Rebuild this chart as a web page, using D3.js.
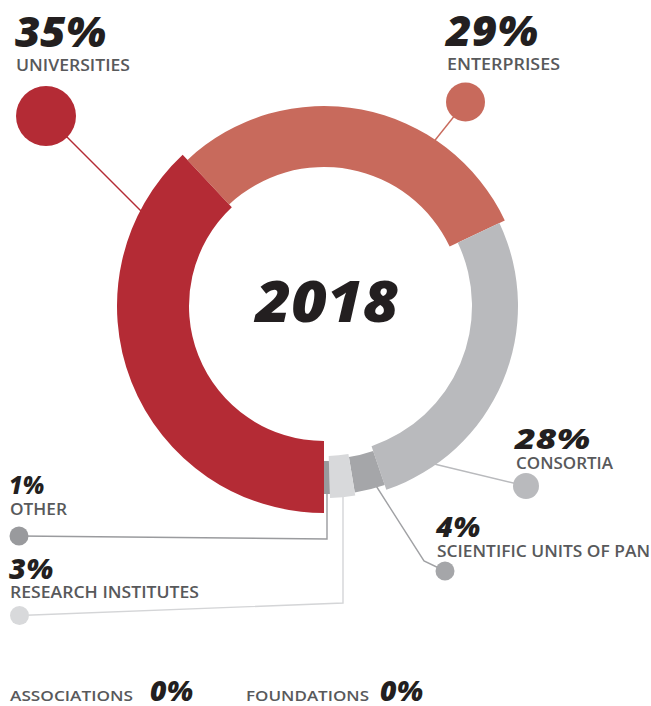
<!DOCTYPE html>
<html lang="en">
<head>
<meta charset="utf-8">
<title>2018</title>
<script src="https://d3js.org/d3.v7.min.js"></script>
<style>
  body { margin: 0; background: #fff; }
  .pct { font-family: 'Open Sans', sans-serif; font-weight: 800; font-style: italic; fill: #231f20; }
  .lbl { font-family: 'Open Sans', sans-serif; font-weight: 600; fill: #58595b; }
</style>
</head>
<body>
<div id="chart"></div>
<script>
// data
var categories = ["UNIVERSITIES", "ENTERPRISES", "CONSORTIA", "SCIENTIFIC UNITS OF PAN", "RESEARCH INSTITUTES", "OTHER"];
var percents = ["35%", "29%", "28%", "4%", "3%", "1%"];
// share of the ring each slice takes, as drawn
var shares = [38.0, 29.9, 26.8, 2.6, 2.1, 0.5];
var zeroCategories = ["ASSOCIATIONS", "FOUNDATIONS"];
var zeroPercents = ["0%", "0%"];
var year = "2018";

var width = 651, height = 706;
var cx = 324, cy = 306;

var colors = ["#b42b35", "#c86a5c", "#b9babd", "#a5a6a9", "#d8d9db", "#999a9d"];
var lineColors = ["#b42b35", "#c86a5c", "#b9babd", "#a0a1a4", "#d4d5d7", "#9a9b9e"];
// inner / outer radius of every slice
var radii = [[135, 207], [139, 200], [148, 194], [153, 189], [150, 192], [155, 188]];

var svg = d3.select("#chart").append("svg")
  .attr("width", width)
  .attr("height", height);

// callouts: dot + leader line (points in page coords)
var callouts = [
  { dot: [46, 116], r: 30, path: [[46, 116], [146, 216]] },
  { dot: [465.5, 102], r: 19.5, path: [[465.5, 102], [428, 149]] },
  { dot: [526, 486], r: 13, path: [[526, 486], [430, 463]] },
  { dot: [445, 571], r: 9.5, path: [[445, 571], [424, 561], [373, 481]] },
  { dot: [19.5, 615.5], r: 9.5, path: [[19.5, 615.5], [343, 603], [343, 480]] },
  { dot: [19, 536], r: 9.5, path: [[19, 536], [327, 539], [327, 480]] }
];

var line = d3.line();
var gLines = svg.append("g");
callouts.forEach(function(c, i) {
  gLines.append("path")
    .attr("d", line(c.path))
    .attr("fill", "none")
    .attr("stroke", lineColors[i])
    .attr("stroke-width", 1.4);
  gLines.append("circle")
    .attr("cx", c.dot[0]).attr("cy", c.dot[1]).attr("r", c.r)
    .attr("fill", colors[i]);
});

var pie = d3.pie().sort(null).startAngle(Math.PI).endAngle(3 * Math.PI);
var arcs = pie(shares);

var g = svg.append("g").attr("transform", "translate(" + cx + "," + cy + ")");
g.selectAll("path")
  .data(arcs)
  .enter()
  .append("path")
  .attr("fill", function(d, i) { return colors[i]; })
  .attr("d", function(d, i) {
    return d3.arc().innerRadius(radii[i][0]).outerRadius(radii[i][1])(d);
  });

function addText(cls, x, y, size, len, str, anchor) {
  svg.append("text").attr("class", cls)
    .attr("x", x).attr("y", y)
    .attr("text-anchor", anchor || "start")
    .attr("textLength", len)
    .attr("lengthAdjust", "spacingAndGlyphs")
    .style("font-size", size + "px")
    .text(str);
}

// center year
addText("pct", 327, 322, 57, 143, year, "middle");

// labels: [x, pct baseline, label baseline, pct size, pct width, label width]
var labelPos = [
  [15, 47, 71, 42, 91, 114],
  [446, 46, 70, 42, 92, 113],
  [515, 449, 469, 29, 75, 97],
  [436, 537, 557, 29, 44, 213],
  [9, 579, 598, 28, 44, 189],
  [9, 494, 515, 25, 35, 57]
];
categories.forEach(function(c, i) {
  var p = labelPos[i];
  addText("pct", p[0], p[1], p[3], p[4], percents[i]);
  addText("lbl", p[0] + 1, p[2], 16, p[5], c);
});

// zero categories at the bottom: [label x, label width, pct x]
var zeroPos = [[10, 123, 150], [246, 123, 380]];
zeroCategories.forEach(function(c, i) {
  addText("lbl", zeroPos[i][0], 701, 14.5, zeroPos[i][1], c);
  addText("pct", zeroPos[i][2], 701, 28, 43, zeroPercents[i]);
});
</script>
</body>
</html>
